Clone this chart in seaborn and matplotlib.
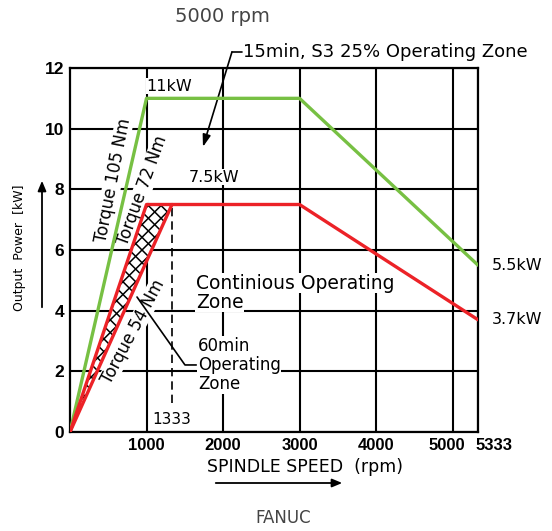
import matplotlib
matplotlib.use("Agg")
import matplotlib.pyplot as plt
import matplotlib.transforms as mtransforms
from matplotlib.collections import LineCollection
from matplotlib.patches import FancyArrowPatch
import numpy as np
import seaborn as sns
import pandas as pd

# Spindle output characteristics (speed in rpm, power in kW)
speed_s3 = [0, 1000, 3000, 5333]
power_s3 = [0, 11.0, 11.0, 5.5]          # 15 min, S3 25% operating zone
speed_cont = [0, 1000, 3000, 5333]
power_cont = [0, 7.5, 7.5, 3.7]          # continuous operating zone
speed_54nm = [0, 1333]
power_54nm = [0, 7.5]                    # 54 Nm torque line
speed_60min = [0, 1000, 1333]
power_60min = [0, 7.5, 7.5]              # 60 min operating zone
x_ticks = [1000, 2000, 3000, 4000, 5000, 5333]
y_ticks = [0, 2, 4, 6, 8, 10, 12]

GREEN = "#77c043"
RED = "#ec2227"
CAD = "DejaVu Sans"

sns.set_theme(style="white")
plt.rcParams["font.family"] = ["DejaVu Sans"]
plt.rcParams["text.color"] = "black"
plt.rcParams["xtick.color"] = "black"
plt.rcParams["ytick.color"] = "black"

W, H = 552, 531
AX_L, AX_R, AX_T, AX_B = 70, 478, 68, 432
fig = plt.figure(figsize=(W / 100, H / 100), dpi=100)
ax = fig.add_axes([AX_L / W, 1 - AX_B / H, (AX_R - AX_L) / W, (AX_B - AX_T) / H])

ax.set_xlim(0, 5333)
ax.set_ylim(0, 12)
ax.set_xticks(x_ticks)
ax.set_yticks(y_ticks)
ax.set_xticklabels([str(t) for t in x_ticks], fontsize=12, weight="bold",
                   family="Liberation Sans")
ax.set_yticklabels([str(t) for t in y_ticks], fontsize=12.5, weight="bold",
                   family="Liberation Sans")
ax.tick_params(length=0, pad=4)
# spread the two closely spaced labels at the right end apart
for lab, dx in zip(ax.get_xticklabels()[-2:], (-6, 16)):
    lab.set_transform(lab.get_transform()
                      + mtransforms.ScaledTranslation(dx / 100, 0, fig.dpi_scale_trans))
ax.set_axisbelow(True)
ax.grid(True, color="black", linewidth=1.5)
for sp in ax.spines.values():
    sp.set_color("black")
    sp.set_linewidth(1.6)

# 60 min zone: cross-hatched wedge
wedge = ax.fill(speed_60min, power_60min, facecolor="white", edgecolor="none",
                zorder=2)[0]
aw, ah = AX_R - AX_L, AX_B - AX_T
step = 12.7
segs = []
for c in np.arange(-ah, aw + step, step):
    segs.append([((c) / aw, 0), ((c + ah) / aw, 1)])
for c in np.arange(0, aw + ah + step, step):
    segs.append([((c) / aw, 0), ((c - ah) / aw, 1)])
hatch = LineCollection(segs, colors="black", linewidths=1.1,
                       transform=ax.transAxes, zorder=2.5)
ax.add_collection(hatch)
hatch.set_clip_path(wedge)

df_s3 = pd.DataFrame({"speed": speed_s3, "power": power_s3})
df_cont = pd.DataFrame({"speed": speed_cont, "power": power_cont})
df_54 = pd.DataFrame({"speed": speed_54nm, "power": power_54nm})
for df, col in ((df_s3, GREEN), (df_cont, RED), (df_54, RED)):
    sns.lineplot(data=df, x="speed", y="power", color=col, linewidth=2.4,
                 sort=False, ax=ax, zorder=4)
ax.set_xlabel("")
ax.set_ylabel("")

# 1333 rpm marker
ax.plot([1333, 1333], [0.95, 7.5], color="black", linewidth=1.2,
        linestyle=(0, (5, 3)), zorder=3)
ax.text(1333, 0.4, "1333", ha="center", va="center", fontsize=11, family=CAD,
        zorder=3)

box = dict(facecolor="white", edgecolor="none", pad=0.2)
ax.text(560, 8.3, "Torque 105 Nm", rotation=79, ha="center", va="center",
        fontsize=12, family=CAD, bbox=box, zorder=1.5)
ax.text(945, 7.95, "Torque 72 Nm", rotation=70, ha="center", va="center",
        fontsize=12, family=CAD, bbox=box, zorder=1.5)
ax.text(820, 3.3, "Torque 54 Nm", rotation=62, ha="center", va="center",
        fontsize=12, family=CAD, bbox=box, zorder=1.5)

ax.text(1000, 11.15, "11kW", ha="left", va="bottom", fontsize=11.5, family=CAD,
        bbox=dict(facecolor="white", edgecolor="none", pad=0.2), zorder=1.5)
ax.text(1880, 8.15, "7.5kW", ha="center", va="bottom", fontsize=11.5, family=CAD,
        bbox=dict(facecolor="white", edgecolor="none", pad=0.2), zorder=1.5)
ax.text(5333 + 180, 5.5, "5.5kW", ha="left", va="center", fontsize=11.5, family=CAD)
ax.text(5333 + 180, 3.7, "3.7kW", ha="left", va="center", fontsize=11.5, family=CAD)

tbox = dict(facecolor="white", edgecolor="none", pad=0.3)
ax.text(1645, 4.91, "Continious Operating", ha="left", va="center",
        fontsize=13.5, family=CAD, bbox=tbox, zorder=1.5)
ax.text(1645, 4.28, "Zone", ha="left", va="center",
        fontsize=13.5, family=CAD, bbox=tbox, zorder=1.5)
ax.text(1670, 2.21, "60min\nOperating\nZone", ha="left", va="center",
        fontsize=12, family=CAD, linespacing=1.1, bbox=tbox, zorder=1.5)
ax.plot([876, 1503, 1650], [4.45, 2.21, 2.21], color="black", linewidth=1.2,
        zorder=3)

# 15 min S3 zone callout above the plot
ax.text(2255, 12.53, "15min, S3 25% Operating Zone", ha="left", va="center",
        fontsize=13, family=CAD, clip_on=False)
ax.plot([2117, 2245], [12.53, 12.53], color="black", linewidth=1.2, clip_on=False)
ax.annotate("", xy=(1738, 9.4), xytext=(2117, 12.53),
            arrowprops=dict(arrowstyle="-|>,head_length=0.6,head_width=0.2",
                            color="black", linewidth=1.2, shrinkA=0, shrinkB=0),
            annotation_clip=False)

# Axis captions with direction arrows
fig.text(305 / W, 1 - 467 / H, "SPINDLE SPEED  (rpm)", ha="center", va="center",
         fontsize=12.5, family=CAD)
fig.add_artist(FancyArrowPatch(
    (213 / W, 1 - 483 / H), (345 / W, 1 - 483 / H),
    transform=fig.transFigure, arrowstyle="-|>,head_length=6,head_width=2.5",
    color="black", linewidth=1.3))
fig.text(20 / W, 1 - 248 / H, "Output  Power  [kW]", rotation=90, ha="center",
         va="center", fontsize=9, family=CAD)
fig.add_artist(FancyArrowPatch(
    (42 / W, 1 - 310 / H), (42 / W, 1 - 178 / H),
    transform=fig.transFigure, arrowstyle="-|>,head_length=6,head_width=2.5",
    color="black", linewidth=1.3))

fig.text(222 / W, 1 - 17 / H, "5000 rpm", ha="center", va="center",
         fontsize=14, color="#444444")
fig.text(283 / W, 1 - 518 / H, "FANUC", ha="center", va="center",
         fontsize=12, color="#444444")

fig.savefig("out.png", dpi=100, facecolor="white")
